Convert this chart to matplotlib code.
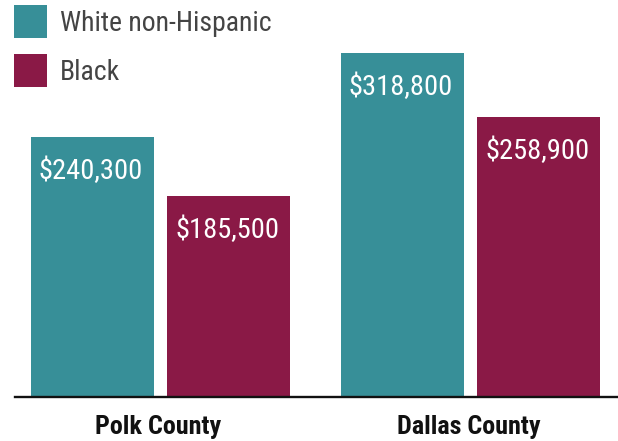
import matplotlib
matplotlib.use("Agg")
import matplotlib.pyplot as plt
from matplotlib.patches import Rectangle

categories = ["Polk County", "Dallas County"]
series_names = ["White non-Hispanic", "Black"]
white_values = [240300, 318800]
black_values = [185500, 258900]
value_labels = [["$240,300", "$318,800"], ["$185,500", "$258,900"]]

colors = ["#378F98", "#8A1946"]
FONT = "Roboto Condensed"

W, H = 618, 441
fig = plt.figure(figsize=(W / 100, H / 100), dpi=100)
base_px = 396  # baseline from top
ax = fig.add_axes([0, (H - base_px) / H, 1, base_px / H])
ax.set_xlim(0, W)
ax.set_ylim(0, 367800)
ax.axis("off")

group_centers = [160.5, 470.5]
bar_w = 123
gap = 13
offsets = [-(bar_w + gap) / 2, (bar_w + gap) / 2]

for s, vals in enumerate([white_values, black_values]):
    xs = [c + offsets[s] for c in group_centers]
    ax.bar(xs, vals, width=bar_w, color=colors[s], linewidth=0)
    for x, v, lab in zip(xs, vals, value_labels[s]):
        ax.annotate(lab, (x, v), xytext=(-1, -42 * 0.72), textcoords="offset points",
                    ha="center", va="baseline", color="white",
                    fontsize=20.5, family=FONT)

# baseline axis line
fig.add_artist(plt.Line2D([15 / W, 1], [(H - 397) / H] * 2, color="#111111", lw=1.7,
                          transform=fig.transFigure))

# category labels
for c, name in zip(group_centers, categories):
    fig.text((c - 2) / W, (H - 434) / H, name, ha="center", va="baseline",
             fontsize=18.8, fontweight="bold", family=FONT, color="#111111")

# legend
leg_y = [(5, 31), (54, 80)]
for (top, base), col, name in zip(leg_y, colors, series_names):
    fig.add_artist(Rectangle((14 / W, (H - top - 33) / H), 33 / W, 33 / H,
                             transform=fig.transFigure, color=col, lw=0))
    fig.text(60 / W, (H - base) / H, name, ha="left", va="baseline",
             fontsize=20, family=FONT, color="#444444")

fig.savefig("out.png", dpi=100)
